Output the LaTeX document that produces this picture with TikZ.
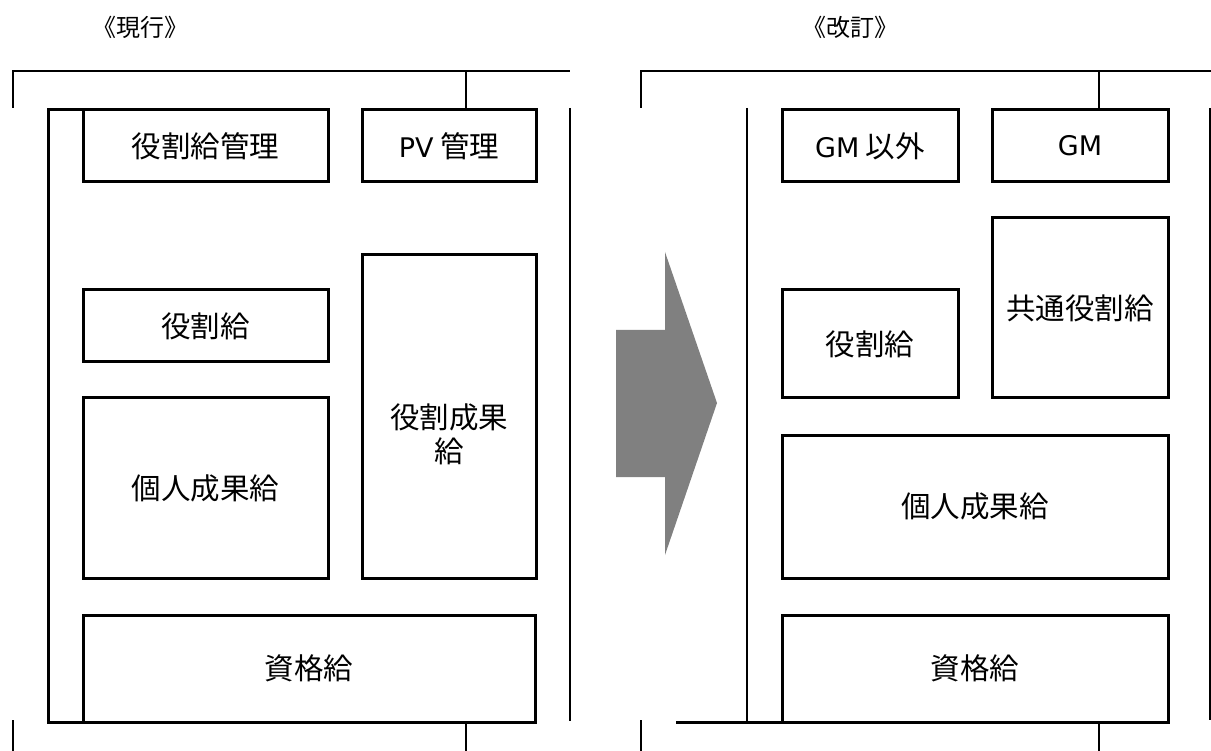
\documentclass[tikz,border=0pt]{standalone}
\usepackage{fontspec}
\setmainfont{Noto Sans CJK JP}
\newfontfamily\latinf{DejaVu Sans}
\begin{document}
\begin{tikzpicture}[x=1pt,y=-1pt,
  box/.style={draw=black,line width=3pt,fill=white,inner sep=0pt,font=\fontsize{29.5}{34}\selectfont,align=center},
  frame/.style={draw=black,line width=3pt},
  thin/.style={draw=black,line width=2pt},
  title/.style={font=\fontsize{24}{28}\selectfont,inner sep=0pt}]
\useasboundingbox (0,0) rectangle (1211,751);
% titles
\node[title] (t1) at (140,27) {《現行》};
\node[title] (t2) at (850,27) {《改訂》};
% left thin lines
\draw[thin] (13,108) -- (13,71) -- (570,71);
\draw[thin] (466,71) -- (466,110);
\draw[thin] (570,108) -- (570,721);
\draw[thin] (13,720) -- (13,751);
\draw[thin] (466,722) -- (466,751);
% right thin lines
\draw[thin] (641,108) -- (641,71) -- (1211,71);
\draw[thin] (1099,71) -- (1099,110);
\draw[thin] (747,108) -- (747,722);
\draw[thin] (1210,108) -- (1210,720);
\draw[thin] (641,720) -- (641,751);
\draw[thin] (1099,722) -- (1099,751);
% left frame
\draw[frame] (83,110) -- (48,110) -- (48,722) -- (83,722);
% right frame
\draw[frame] (676,722) -- (782,722);
% left boxes
\node[box,minimum width=245pt,minimum height=72pt] (a1) at (205.5,146) {役割給管理};
\node[box,minimum width=174pt,minimum height=72pt] (a2) at (449,146) {{\latinf\fontsize{27}{34}\selectfont PV} 管理};
\node[box,minimum width=245pt,minimum height=72pt] (a3) at (205.5,326) {役割給};
\node[box,minimum width=245pt,minimum height=180pt] (a4) at (205.5,488) {個人成果給};
\node[box,minimum width=174pt,minimum height=323pt] (a5) at (449,416.5) {};
\node[font=\fontsize{29.5}{34}\selectfont,align=center] (a5t) at (449,434) {役割成果\\給};
\node[box,minimum width=452pt,minimum height=107pt] (a6) at (309,668.5) {資格給};
% right boxes
\node[box,minimum width=176pt,minimum height=72pt] (b1) at (870,146) {{\latinf\fontsize{27}{34}\selectfont GM} 以外};
\node[box,minimum width=176pt,minimum height=72pt] (b2) at (1080,146) {{\latinf\fontsize{27}{34}\selectfont GM}};
\node[box,minimum width=176pt,minimum height=180pt] (b3) at (1080,308) {共通役割給};
\node[box,minimum width=176pt,minimum height=108pt] (b4) at (870,344) {役割給};
\node[box,minimum width=386pt,minimum height=143pt] (b5) at (975,506.5) {個人成果給};
\node[box,minimum width=386pt,minimum height=107pt] (b6) at (975,668.5) {資格給};
% arrow
\fill[fill={rgb,255:red,128;green,128;blue,128}] (616,330) -- (665,330) -- (665,252) -- (717,403) -- (665,555) -- (665,477) -- (616,477) -- cycle;
\end{tikzpicture}
\end{document}
